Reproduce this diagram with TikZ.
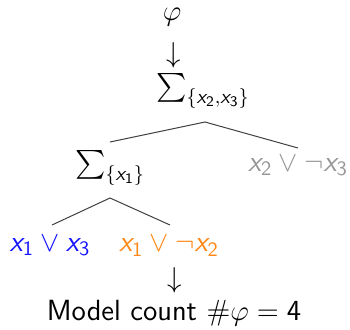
\documentclass[tikz,border=0pt]{standalone}
\usepackage{amsmath}
\usepackage{fontspec}
\definecolor{myblue}{RGB}{20,20,255}
\definecolor{myorange}{RGB}{255,135,20}
\definecolor{mygray}{RGB}{150,150,150}
\newcommand{\vx}[1]{\textsf{\itshape x}_{\textsf{#1}}}
\begin{document}
\begin{tikzpicture}[x=0.5pt,y=-0.5pt,
  lab/.style={inner sep=0pt,font=\sffamily\fontsize{14.6}{17}\selectfont},
  arr/.style={inner sep=0pt,anchor=base,font=\sffamily\fontsize{14.6}{17}\selectfont},
  edge/.style={draw=black!75,line width=0.5pt}]
\useasboundingbox (0,0) rectangle (350,329);
\node[lab] (phi) at (172,17) {$\varphi$};
\node[arr] (a1) at (174,62) {$\smash{\downarrow}$};
\node[lab] (s1) at (203,91) {$\sum_{\{\vx{2},\vx{3}\}}$};
\node[lab] (s2) at (110,168) {$\sum_{\{\vx{1}\}}$};
\node[lab,text=mygray] (c3) at (298,166) {$\vx{2}\vee\neg \vx{3}$};
\node[lab,text=myblue] (c1) at (50,246) {$\vx{1}\vee \vx{3}$};
\node[lab,text=myorange] (c2) at (169,246) {$\vx{1}\vee\neg \vx{2}$};
\node[arr] (a2) at (175,287) {$\smash{\downarrow}$};
\node[lab] (mc) at (174,313) {Model count $\#\varphi=\textsf{4}$};
\coordinate (p1) at (205,122);
\coordinate (p1l) at (110,142);
\coordinate (p1r) at (298,148);
\coordinate (p2) at (110,198);
\coordinate (p2l) at (52,225);
\coordinate (p2r) at (170,225);
\draw[edge] (p1l) -- (p1) -- (p1r);
\draw[edge] (p2l) -- (p2) -- (p2r);
\end{tikzpicture}
\end{document}
